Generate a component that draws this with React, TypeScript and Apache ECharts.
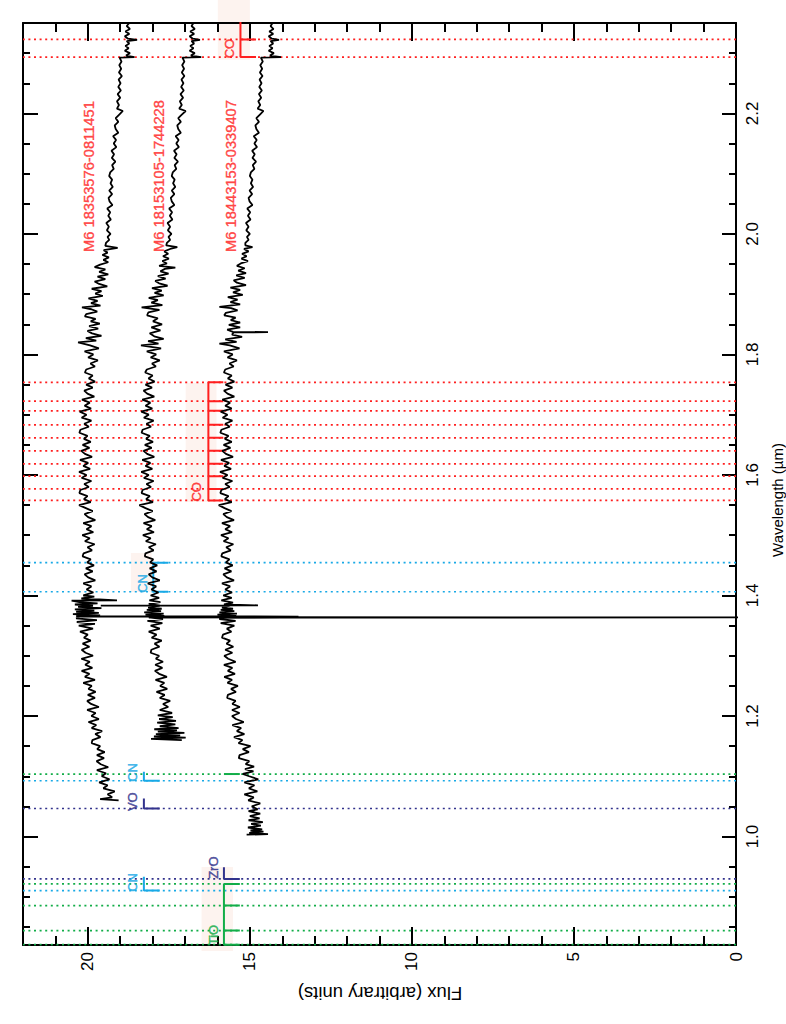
import React, { useEffect, useRef } from "react";
import * as echarts from "echarts";

// Spectra: [wavelength (µm), flux (arbitrary units)]
const spectrum1: number[][] = [
  [1.06, 19.05], [1.062, 19.62], [1.065, 19.25], [1.07, 19.39], [1.075, 19.17], [1.08, 19.52], [1.085, 19.39], [1.09, 19.65],
  [1.095, 19.33], [1.1, 19.57], [1.105, 19.44], [1.11, 19.72], [1.115, 19.37], [1.12, 19.6], [1.125, 19.73], [1.13, 19.5],
  [1.135, 19.72], [1.14, 19.48], [1.145, 19.71], [1.15, 19.62], [1.155, 19.88], [1.16, 19.86], [1.165, 19.61], [1.17, 19.77],
  [1.175, 19.56], [1.18, 19.88], [1.185, 19.74], [1.19, 19.98], [1.195, 19.66], [1.2, 19.89], [1.205, 19.76], [1.21, 20.02],
  [1.215, 19.66], [1.22, 19.9], [1.225, 20.02], [1.23, 19.78], [1.235, 20.0], [1.24, 19.76], [1.245, 19.98], [1.25, 19.88],
  [1.255, 20.14], [1.26, 19.78], [1.265, 20.09], [1.27, 19.95], [1.275, 20.19], [1.28, 19.86], [1.285, 20.08], [1.29, 19.94],
  [1.295, 20.2], [1.3, 19.84], [1.305, 20.07], [1.31, 20.19], [1.315, 19.95], [1.32, 20.16], [1.325, 19.91], [1.33, 20.12],
  [1.335, 20.0], [1.34, 20.24], [1.345, 19.84], [1.35, 20.28], [1.353, 19.78], [1.356, 20.34], [1.359, 19.72], [1.362, 20.36],
  [1.3645, 20.26], [1.365, 13.5], [1.3655, 20.36], [1.367, 19.62], [1.369, 20.46], [1.371, 19.66], [1.373, 20.36], [1.375, 19.8],
  [1.377, 20.4], [1.379, 19.58], [1.381, 20.3], [1.383, 19.84], [1.385, 20.4], [1.387, 19.7], [1.389, 20.26], [1.3915, 20.5],
  [1.392, 19.1], [1.395, 20.2], [1.398, 19.8], [1.4, 20.14], [1.405, 19.83], [1.41, 20.04], [1.415, 19.89], [1.42, 20.14],
  [1.425, 19.77], [1.43, 19.99], [1.435, 20.1], [1.44, 19.85], [1.445, 20.06], [1.45, 19.81], [1.455, 20.02], [1.46, 19.91],
  [1.465, 20.16], [1.47, 20.13], [1.475, 19.87], [1.48, 20.01], [1.485, 19.79], [1.49, 20.09], [1.495, 19.94], [1.5, 20.17],
  [1.505, 19.83], [1.51, 20.04], [1.515, 19.89], [1.52, 20.14], [1.525, 19.77], [1.53, 19.99], [1.535, 20.1], [1.54, 19.85],
  [1.545, 20.06], [1.55, 20.27], [1.555, 19.91], [1.56, 20.12], [1.565, 20.01], [1.57, 20.26], [1.575, 20.23], [1.58, 19.97],
  [1.585, 20.11], [1.59, 19.89], [1.595, 20.19], [1.6, 20.04], [1.605, 20.27], [1.61, 19.93], [1.615, 20.14], [1.62, 19.99],
  [1.625, 20.24], [1.63, 19.87], [1.635, 20.09], [1.64, 20.2], [1.645, 19.95], [1.65, 20.16], [1.655, 19.91], [1.66, 20.12],
  [1.665, 20.01], [1.67, 20.26], [1.675, 20.23], [1.68, 19.97], [1.685, 20.11], [1.69, 19.89], [1.695, 20.19], [1.7, 20.04],
  [1.705, 20.25], [1.71, 19.9], [1.715, 20.1], [1.72, 19.94], [1.725, 20.18], [1.73, 19.8], [1.735, 20.01], [1.74, 20.11],
  [1.745, 19.85], [1.75, 20.05], [1.755, 19.78], [1.76, 19.97], [1.765, 19.85], [1.77, 20.09], [1.775, 20.05], [1.78, 19.78],
  [1.785, 19.92], [1.79, 19.69], [1.795, 19.99], [1.8, 19.83], [1.805, 20.1], [1.81, 19.66], [1.815, 19.93], [1.82, 20.3],
  [1.823, 19.74], [1.827, 20.06], [1.831, 19.58], [1.835, 19.87], [1.839, 20.01], [1.843, 19.68], [1.847, 19.96], [1.851, 19.63],
  [1.855, 19.91], [1.859, 19.76], [1.863, 20.09], [1.867, 20.05], [1.871, 19.71], [1.875, 19.89], [1.878, 20.18], [1.881, 19.61],
  [1.885, 19.9], [1.889, 19.7], [1.893, 19.98], [1.897, 19.54], [1.901, 19.77], [1.905, 19.58], [1.909, 19.88], [1.913, 19.4],
  [1.917, 19.65], [1.921, 19.79], [1.925, 19.46], [1.929, 19.7], [1.933, 19.37], [1.937, 19.65], [1.941, 19.46], [1.945, 19.79],
  [1.949, 19.62], [1.953, 19.37], [1.957, 19.52], [1.961, 19.35], [1.965, 19.55], [1.969, 19.39], [1.973, 19.51], [1.977, 19.08],
  [1.98, 19.46], [1.985, 19.44], [1.99, 19.34], [1.995, 19.39], [2.0, 19.3], [2.006, 19.41], [2.012, 19.35], [2.018, 19.43],
  [2.024, 19.29], [2.03, 19.37], [2.036, 19.31], [2.042, 19.4], [2.048, 19.24], [2.054, 19.33], [2.06, 19.36], [2.066, 19.25],
  [2.072, 19.34], [2.078, 19.23], [2.084, 19.3], [2.09, 19.25], [2.096, 19.34], [2.102, 19.31], [2.108, 19.2], [2.114, 19.25],
  [2.12, 19.15], [2.126, 19.26], [2.132, 19.19], [2.138, 19.27], [2.144, 19.12], [2.15, 19.2], [2.156, 19.13], [2.162, 19.22],
  [2.168, 19.06], [2.174, 19.14], [2.18, 19.17], [2.186, 19.06], [2.192, 19.14], [2.198, 19.03], [2.204, 18.92], [2.208, 19.1],
  [2.214, 19.04], [2.22, 19.1], [2.226, 19.0], [2.232, 19.08], [2.238, 18.98], [2.244, 19.06], [2.25, 18.99], [2.256, 19.05],
  [2.262, 18.95], [2.268, 19.04], [2.274, 18.97], [2.28, 19.03], [2.286, 18.96], [2.2925, 19.02], [2.2935, 18.56], [2.296, 18.82],
  [2.3, 18.7], [2.304, 18.86], [2.308, 18.74], [2.312, 18.84], [2.316, 18.72], [2.32, 18.8], [2.322, 18.48], [2.324, 18.76],
  [2.328, 18.86], [2.332, 18.72], [2.336, 18.84], [2.34, 18.7], [2.345, 18.8], [2.35, 18.72],
];

const spectrum2: number[][] = [
  [1.16, 17.1], [1.162, 18.05], [1.164, 16.98], [1.166, 17.96], [1.168, 17.15], [1.17, 17.9], [1.172, 17.02], [1.174, 17.84],
  [1.176, 17.25], [1.178, 17.95], [1.18, 17.2], [1.183, 17.78], [1.186, 17.3], [1.189, 17.86], [1.192, 17.28], [1.195, 17.8],
  [1.198, 17.38], [1.201, 17.84], [1.205, 17.4], [1.21, 17.78], [1.215, 17.52], [1.22, 17.68], [1.225, 17.46], [1.23, 17.78],
  [1.235, 17.63], [1.24, 17.88], [1.245, 17.55], [1.25, 17.77], [1.255, 17.64], [1.26, 17.91], [1.265, 17.56], [1.27, 17.8],
  [1.275, 17.93], [1.28, 17.7], [1.285, 17.92], [1.29, 17.68], [1.295, 17.9], [1.3, 17.8], [1.305, 18.06], [1.31, 18.04],
  [1.315, 17.79], [1.32, 17.94], [1.325, 17.72], [1.33, 18.03], [1.335, 17.88], [1.34, 18.12], [1.345, 17.78], [1.35, 18.06],
  [1.354, 17.7], [1.358, 18.16], [1.361, 17.68], [1.3635, 18.12], [1.364, 14.0], [1.3645, 18.06], [1.366, 17.64], [1.368, 18.22],
  [1.37, 17.66], [1.372, 18.26], [1.374, 17.74], [1.376, 18.18], [1.378, 17.72], [1.38, 18.14], [1.383, 17.78], [1.386, 18.12],
  [1.389, 17.76], [1.392, 18.1], [1.396, 17.8], [1.4, 18.06], [1.405, 17.82], [1.41, 18.04], [1.415, 17.89], [1.42, 18.15],
  [1.425, 17.78], [1.43, 18.01], [1.435, 18.12], [1.44, 17.88], [1.445, 18.09], [1.45, 17.86], [1.455, 18.08], [1.46, 17.98],
  [1.465, 18.24], [1.47, 18.22], [1.475, 17.97], [1.48, 18.12], [1.485, 17.9], [1.49, 18.21], [1.495, 18.06], [1.5, 18.3],
  [1.505, 17.96], [1.51, 18.18], [1.515, 18.03], [1.52, 18.28], [1.525, 17.92], [1.53, 18.14], [1.535, 18.25], [1.54, 18.0],
  [1.545, 18.22], [1.55, 18.41], [1.555, 17.99], [1.56, 18.2], [1.565, 18.09], [1.57, 18.34], [1.575, 18.31], [1.58, 18.05],
  [1.585, 18.19], [1.59, 17.97], [1.595, 18.27], [1.6, 18.12], [1.605, 18.35], [1.61, 18.01], [1.615, 18.22], [1.62, 18.07],
  [1.625, 18.32], [1.63, 17.95], [1.635, 18.17], [1.64, 18.28], [1.645, 18.03], [1.65, 18.24], [1.655, 17.99], [1.66, 18.2],
  [1.665, 18.09], [1.67, 18.34], [1.675, 18.31], [1.68, 18.05], [1.685, 18.19], [1.69, 17.97], [1.695, 18.27], [1.7, 18.12],
  [1.705, 18.35], [1.71, 18.01], [1.715, 18.22], [1.72, 18.07], [1.725, 18.32], [1.73, 17.95], [1.735, 18.17], [1.74, 18.28],
  [1.745, 18.02], [1.75, 18.22], [1.755, 17.94], [1.76, 18.13], [1.765, 18.0], [1.77, 18.23], [1.775, 18.18], [1.78, 17.9],
  [1.785, 18.02], [1.79, 17.78], [1.795, 18.06], [1.8, 17.89], [1.805, 18.18], [1.81, 17.74], [1.815, 18.36], [1.818, 17.82],
  [1.822, 18.14], [1.826, 17.66], [1.83, 17.95], [1.835, 18.09], [1.84, 17.76], [1.845, 18.04], [1.85, 17.71], [1.855, 17.99],
  [1.86, 17.84], [1.865, 18.17], [1.87, 18.13], [1.874, 17.79], [1.878, 18.34], [1.882, 17.7], [1.886, 18.04], [1.89, 17.84],
  [1.894, 18.12], [1.898, 17.66], [1.902, 17.94], [1.906, 17.72], [1.91, 18.02], [1.914, 17.54], [1.918, 17.8], [1.922, 17.92],
  [1.926, 17.6], [1.93, 17.84], [1.934, 17.51], [1.938, 17.76], [1.942, 17.62], [1.944, 17.3], [1.947, 17.8], [1.951, 17.56],
  [1.955, 17.7], [1.959, 17.5], [1.963, 17.68], [1.967, 17.52], [1.971, 17.64], [1.975, 17.46], [1.978, 17.24], [1.981, 17.58],
  [1.985, 17.56], [1.99, 17.46], [1.995, 17.51], [2.0, 17.42], [2.006, 17.53], [2.012, 17.46], [2.018, 17.54], [2.024, 17.39],
  [2.03, 17.47], [2.036, 17.4], [2.042, 17.49], [2.048, 17.33], [2.054, 17.41], [2.06, 17.44], [2.066, 17.33], [2.072, 17.41],
  [2.078, 17.3], [2.084, 17.37], [2.09, 17.32], [2.096, 17.41], [2.102, 17.38], [2.108, 17.27], [2.114, 17.32], [2.12, 17.22],
  [2.126, 17.33], [2.132, 17.26], [2.138, 17.34], [2.144, 17.19], [2.15, 17.27], [2.156, 17.2], [2.162, 17.29], [2.168, 17.13],
  [2.174, 17.21], [2.18, 17.24], [2.186, 17.13], [2.192, 17.21], [2.198, 17.1], [2.204, 16.98], [2.208, 17.18], [2.214, 17.1],
  [2.22, 17.16], [2.226, 17.06], [2.232, 17.14], [2.238, 17.04], [2.244, 17.12], [2.25, 17.05], [2.256, 17.11], [2.262, 17.02],
  [2.268, 17.1], [2.274, 17.03], [2.28, 17.09], [2.286, 17.02], [2.2925, 17.08], [2.2935, 16.5], [2.296, 16.82], [2.3, 16.7],
  [2.304, 16.86], [2.308, 16.74], [2.312, 16.84], [2.316, 16.72], [2.32, 16.8], [2.322, 16.54], [2.324, 16.76], [2.328, 16.86],
  [2.332, 16.72], [2.336, 16.84], [2.34, 16.7], [2.345, 16.8], [2.35, 16.74],
];

const spectrum3: number[][] = [
  [1.003, 15.1], [1.004, 14.44], [1.006, 15.02], [1.008, 14.58], [1.01, 14.98], [1.012, 14.62], [1.015, 15.06], [1.018, 14.66],
  [1.021, 14.96], [1.024, 14.6], [1.027, 15.04], [1.03, 14.7], [1.034, 15.0], [1.038, 14.68], [1.042, 15.04], [1.045, 14.76],
  [1.05, 14.94], [1.055, 14.68], [1.06, 15.05], [1.065, 14.88], [1.07, 15.17], [1.075, 14.77], [1.08, 15.03], [1.085, 14.86],
  [1.09, 15.17], [1.095, 14.74], [1.1, 15.02], [1.104, 15.22], [1.108, 14.89], [1.112, 15.15], [1.116, 14.87], [1.12, 15.13],
  [1.125, 15.02], [1.13, 15.34], [1.135, 15.32], [1.14, 15.03], [1.145, 15.22], [1.15, 14.98], [1.155, 15.35], [1.16, 15.23],
  [1.165, 15.49], [1.17, 15.17], [1.175, 15.4], [1.18, 15.27], [1.185, 15.54], [1.19, 15.19], [1.195, 15.43], [1.2, 15.55],
  [1.205, 15.32], [1.21, 15.55], [1.215, 15.31], [1.22, 15.54], [1.225, 15.44], [1.23, 15.7], [1.235, 15.68], [1.24, 15.43],
  [1.245, 15.58], [1.25, 15.37], [1.255, 15.69], [1.26, 15.55], [1.265, 15.79], [1.27, 15.46], [1.275, 15.68], [1.28, 15.54],
  [1.285, 15.8], [1.29, 15.44], [1.295, 15.67], [1.3, 15.79], [1.305, 15.54], [1.31, 15.76], [1.315, 15.51], [1.32, 15.72],
  [1.325, 15.61], [1.33, 15.86], [1.335, 15.83], [1.34, 15.57], [1.345, 15.71], [1.35, 15.48], [1.354, 15.9], [1.358, 15.44],
  [1.361, 15.94], [1.3632, 15.86], [1.3636, -0.5], [1.364, 15.92], [1.366, 15.42], [1.368, 16.0], [1.37, 15.4], [1.372, 15.94],
  [1.374, 15.48], [1.376, 15.9], [1.378, 15.52], [1.38, 15.86], [1.383, 15.6], [1.3833, 19.6], [1.3836, 14.75], [1.385, 15.8],
  [1.388, 15.52], [1.392, 15.88], [1.396, 15.56], [1.4, 15.82], [1.405, 15.55], [1.41, 15.76], [1.415, 15.61], [1.42, 15.86],
  [1.425, 15.49], [1.43, 15.71], [1.435, 15.82], [1.44, 15.57], [1.445, 15.78], [1.45, 15.53], [1.455, 15.74], [1.46, 15.63],
  [1.465, 15.88], [1.47, 15.85], [1.475, 15.59], [1.48, 15.73], [1.485, 15.51], [1.49, 15.81], [1.495, 15.66], [1.5, 15.89],
  [1.505, 15.55], [1.51, 15.76], [1.515, 15.61], [1.52, 15.86], [1.525, 15.49], [1.53, 15.71], [1.535, 15.82], [1.54, 15.57],
  [1.545, 15.78], [1.55, 15.96], [1.555, 15.56], [1.56, 15.77], [1.565, 15.66], [1.57, 15.91], [1.575, 15.88], [1.58, 15.62],
  [1.585, 15.76], [1.59, 15.54], [1.595, 15.84], [1.6, 15.69], [1.605, 15.92], [1.61, 15.58], [1.615, 15.79], [1.62, 15.64],
  [1.625, 15.89], [1.63, 15.52], [1.635, 15.74], [1.64, 15.85], [1.645, 15.6], [1.65, 15.81], [1.655, 15.56], [1.66, 15.77],
  [1.665, 15.66], [1.67, 15.91], [1.675, 15.88], [1.68, 15.62], [1.685, 15.76], [1.69, 15.54], [1.695, 15.84], [1.7, 15.69],
  [1.705, 15.9], [1.71, 15.56], [1.715, 15.76], [1.72, 15.61], [1.725, 15.85], [1.73, 15.48], [1.735, 15.69], [1.74, 15.8],
  [1.745, 15.54], [1.75, 15.75], [1.755, 15.48], [1.76, 15.68], [1.765, 15.56], [1.77, 15.8], [1.775, 15.76], [1.78, 15.5],
  [1.785, 15.63], [1.79, 15.4], [1.795, 15.69], [1.8, 15.53], [1.805, 15.8], [1.81, 15.32], [1.815, 15.62], [1.818, 15.94],
  [1.821, 15.41], [1.825, 15.76], [1.829, 15.24], [1.833, 15.55], [1.8365, 15.5], [1.837, 14.44], [1.8375, 15.52], [1.841, 15.7],
  [1.845, 15.3], [1.849, 15.65], [1.853, 15.3], [1.857, 15.59], [1.861, 15.44], [1.865, 15.79], [1.869, 15.74], [1.873, 15.38],
  [1.877, 15.58], [1.879, 15.94], [1.883, 15.3], [1.887, 15.6], [1.891, 15.38], [1.895, 15.68], [1.899, 15.22], [1.903, 15.52],
  [1.907, 15.3], [1.911, 15.6], [1.915, 15.12], [1.919, 15.4], [1.923, 15.5], [1.927, 15.16], [1.931, 15.42], [1.935, 15.12],
  [1.939, 15.36], [1.943, 15.16], [1.947, 15.4], [1.951, 15.28], [1.955, 15.06], [1.959, 15.26], [1.963, 15.1], [1.967, 15.24],
  [1.971, 15.04], [1.975, 15.18], [1.978, 14.92], [1.981, 15.14], [1.985, 15.14], [1.99, 15.04], [1.995, 15.09], [2.0, 15.0],
  [2.006, 15.11], [2.012, 15.04], [2.018, 15.12], [2.024, 14.98], [2.03, 15.06], [2.036, 14.99], [2.042, 15.08], [2.048, 14.92],
  [2.054, 15.01], [2.06, 15.04], [2.066, 14.93], [2.072, 15.01], [2.078, 14.9], [2.084, 14.97], [2.09, 14.92], [2.096, 15.0],
  [2.102, 14.97], [2.108, 14.86], [2.114, 14.91], [2.12, 14.81], [2.126, 14.92], [2.132, 14.85], [2.138, 14.93], [2.144, 14.78],
  [2.15, 14.86], [2.156, 14.79], [2.162, 14.88], [2.168, 14.72], [2.174, 14.8], [2.18, 14.83], [2.186, 14.72], [2.192, 14.8],
  [2.198, 14.69], [2.204, 14.58], [2.208, 14.76], [2.214, 14.68], [2.22, 14.74], [2.226, 14.65], [2.232, 14.72], [2.238, 14.63],
  [2.244, 14.71], [2.25, 14.64], [2.256, 14.7], [2.262, 14.61], [2.268, 14.69], [2.274, 14.62], [2.28, 14.68], [2.286, 14.6],
  [2.2925, 14.66], [2.2935, 14.04], [2.296, 14.38], [2.3, 14.26], [2.304, 14.42], [2.308, 14.3], [2.312, 14.4], [2.316, 14.28],
  [2.32, 14.36], [2.322, 14.1], [2.324, 14.32], [2.328, 14.42], [2.332, 14.28], [2.336, 14.4], [2.34, 14.27], [2.345, 14.36],
  [2.35, 14.3],
];

const starNames = ["M6 18353576-0811451", "M6 18153105-1744228", "M6 18443153-0339407"];
const starLabelFlux = [19.97, 17.81, 15.59];
const starLabelWave = 1.97;

// Feature wavelengths (µm)
const coHWaves = [1.5577, 1.5769, 1.598, 1.6184, 1.64, 1.6616, 1.6832, 1.7064, 1.7225, 1.7537];
const coKWaves = [2.2935, 2.3227];
const cnWaves = [0.9103, 1.0926, 1.4062, 1.4544];
const tioWaves = [0.8206, 0.844, 0.8855, 0.9213, 1.1037];
const voWaves = [1.0465];
const zroWaves = [0.9296];

const fluxTicks = [0, 5, 10, 15, 20];
const waveTicks = [1.0, 1.2, 1.4, 1.6, 1.8, 2.0, 2.2];

const RED = "#ff1f1f";
const CYAN = "#18a9e6";
const GREEN = "#12ad48";
const NAVY = "#32328c";
const FONT = "'Liberation Sans', Arial, Helvetica, sans-serif";

type Marker = {
  label: string;
  color: string;
  level: number;
  tip: number;
  waves: number[];
  barTo?: number;
  labelAt?: number[];
};

const markers: Marker[] = [
  { label: "CO", color: RED, level: 15.29, tip: 14.81, waves: coKWaves, barTo: 2.36, labelAt: [15.63, 2.3076] },
  { label: "CO", color: RED, level: 16.28, tip: 15.82, waves: coHWaves, labelAt: [16.65, 1.572] },
  { label: "CN", color: CYAN, level: 17.98, tip: 17.52, waves: [cnWaves[2], cnWaves[3]], labelAt: [18.32, 1.42] },
  { label: "CN", color: CYAN, level: 18.27, tip: 17.78, waves: [cnWaves[1]], barTo: 1.1076, labelAt: [18.62, 1.1063] },
  { label: "VO", color: NAVY, level: 18.27, tip: 17.78, waves: voWaves, barTo: 1.063, labelAt: [18.62, 1.0578] },
  { label: "CN", color: CYAN, level: 18.27, tip: 17.78, waves: [cnWaves[0]], barTo: 0.9334, labelAt: [18.63, 0.9238] },
  { label: "ZrO", color: NAVY, level: 15.8, tip: 15.31, waves: zroWaves, barTo: 0.949, labelAt: [16.13, 0.9483] },
  { label: "TiO", color: GREEN, level: 15.8, tip: 15.31, waves: tioWaves.slice(0, 4), labelAt: [16.13, 0.8366] },
  { label: "", color: GREEN, level: 15.8, tip: 15.31, waves: [tioWaves[4]] },
];

// pale label backgrounds [flux1, wave1, flux2, wave2]
const labelBoxes = [
  [15.99, 2.388, 15.0, 2.289],
  [16.98, 1.7525, 16.03, 1.555],
  [18.67, 1.4705, 18.03, 1.4057],
  [16.49, 0.9496, 15.52, 0.81],
];

function bracketPath(m: Marker): number[][] {
  const path: number[][] = [];
  m.waves.forEach((w, i) => {
    if (i === 0) {
      path.push([m.tip, w], [m.level, w]);
    } else {
      path.push([m.level, w], [m.tip, w], [m.level, w]);
    }
  });
  if (m.barTo !== undefined) path.push([m.level, m.barTo]);
  return path;
}

export default function App() {
  const ref = useRef<HTMLDivElement>(null);

  useEffect(() => {
    if (!ref.current) return;
    const chart = echarts.init(ref.current, undefined, { renderer: "svg" });

    const axisLine = { show: true, onZero: false, lineStyle: { color: "#000", width: 2 } };
    const fluxAxisBase = {
      type: "value" as const,
      min: 0,
      max: 22,
      interval: 5,
      inverse: true,
      axisLine,
      splitLine: { show: false },
      axisTick: { show: true, inside: true, length: 18, lineStyle: { color: "#000", width: 2 } },
      minorTick: { show: true, splitNumber: 5, length: 9, lineStyle: { color: "#000", width: 2 } },
    };
    const waveAxisBase = {
      type: "value" as const,
      min: 0.82,
      max: 2.35,
      splitNumber: 8,
      axisLine,
      splitLine: { show: false },
      axisTick: { show: true, inside: true, length: 14, lineStyle: { color: "#000", width: 2 } },
      minorTick: { show: true, splitNumber: 4, length: 7, lineStyle: { color: "#000", width: 2 } },
    };

    const series: any[] = [];

    series.push({
      type: "custom",
      name: "label boxes",
      silent: true,
      clip: false,
      z: 0,
      data: labelBoxes,
      encode: { x: [0, 2], y: [1, 3] },
      renderItem: (_p: any, api: any) => {
        const a = api.coord([api.value(0), api.value(1)]);
        const b = api.coord([api.value(2), api.value(3)]);
        return {
          type: "rect",
          shape: {
            x: Math.min(a[0], b[0]),
            y: Math.min(a[1], b[1]),
            width: Math.abs(a[0] - b[0]),
            height: Math.abs(a[1] - b[1]),
          },
          style: { fill: "#fdf3ef" },
        };
      },
    });

    const dotted = (waves: number[], color: string) =>
      waves.forEach((w) =>
        series.push({
          type: "line",
          silent: true,
          symbol: "none",
          z: 2,
          data: [
            [0, w],
            [22, w],
          ],
          lineStyle: { color, width: 1.7, type: [2, 3.6] },
        })
      );
    dotted(coHWaves, RED);
    dotted(coKWaves, RED);
    dotted(cnWaves, CYAN);
    dotted(tioWaves, GREEN);
    dotted(voWaves, NAVY);
    dotted(zroWaves, NAVY);

    markers.forEach((m) => {
      series.push({
        type: "line",
        silent: true,
        symbol: "none",
        z: 3,
        data: bracketPath(m),
        lineStyle: { color: m.color, width: 2 },
      });
      if (m.label && m.labelAt) {
        series.push({
          type: "scatter",
          silent: true,
          z: 4,
          symbolSize: 1,
          itemStyle: { color: "rgba(0,0,0,0)" },
          data: [{ name: m.label, value: m.labelAt }],
          label: {
            show: true,
            position: "inside",
            rotate: 90,
            formatter: "{b}",
            color: m.color,
            fontSize: 13,
            fontFamily: FONT,
            textBorderColor: m.color,
            textBorderWidth: 0.5,
            align: "center",
            verticalAlign: "middle",
          },
        });
      }
    });

    [spectrum1, spectrum2, spectrum3].forEach((s, i) => {
      series.push({
        type: "line",
        name: starNames[i],
        silent: true,
        symbol: "none",
        z: 5,
        data: s.map((p) => [p[1], p[0]]),
        lineStyle: { color: "#000", width: 1.8 },
      });
    });

    series.push({
      type: "scatter",
      silent: true,
      z: 6,
      symbolSize: 1,
      itemStyle: { color: "rgba(0,0,0,0)" },
      data: starNames.map((n, i) => ({ name: n, value: [starLabelFlux[i], starLabelWave] })),
      label: {
        show: true,
        position: "inside",
        rotate: 90,
        formatter: "{b}",
        color: RED,
        fontSize: 14.7,
        fontFamily: FONT,
        textBorderColor: RED,
        textBorderWidth: 0.4,
        align: "left",
        verticalAlign: "middle",
      },
    });

    chart.setOption({
      animation: false,
      backgroundColor: "#fff",
      grid: { left: 23, top: 23, right: 50, bottom: 79, containLabel: false },
      xAxis: [
        {
          ...fluxAxisBase,
          position: "bottom",
          axisLabel: {
            show: true,
            rotate: 90,
            margin: 7,
            fontSize: 17,
            color: "#000",
            fontFamily: FONT,
            formatter: (v: number) => (fluxTicks.includes(v) ? String(v) : ""),
          },
        },
        { ...fluxAxisBase, position: "top", axisLabel: { show: false } },
      ],
      yAxis: [
        {
          ...waveAxisBase,
          position: "right",
          axisLabel: {
            show: true,
            rotate: 90,
            margin: 8,
            fontSize: 17,
            color: "#000",
            fontFamily: FONT,
            formatter: (v: number) =>
              waveTicks.some((t) => Math.abs(t - v) < 1e-6) ? v.toFixed(1) : "",
          },
        },
        { ...waveAxisBase, position: "left", axisTick: { ...waveAxisBase.axisTick, length: 15 }, axisLabel: { show: false } },
      ],
      graphic: [
        {
          type: "text",
          x: 777,
          y: 500,
          rotation: Math.PI / 2,
          silent: true,
          style: {
            text: "Wavelength (µm)",
            fontSize: 15,
            fontFamily: FONT,
            fill: "#000",
            align: "center",
            verticalAlign: "middle",
          },
        },
        {
          type: "text",
          x: 380,
          y: 993,
          rotation: Math.PI,
          silent: true,
          style: {
            text: "Flux (arbitrary units)",
            fontSize: 18.5,
            fontFamily: FONT,
            fill: "#000",
            align: "center",
            verticalAlign: "middle",
          },
        },
      ],
      series,
    });

    return () => chart.dispose();
  }, []);

  return (
    <div
      ref={ref}
      style={{ position: "absolute", left: 0, top: 0, width: 786, height: 1024, background: "#fff" }}
    />
  );
}
